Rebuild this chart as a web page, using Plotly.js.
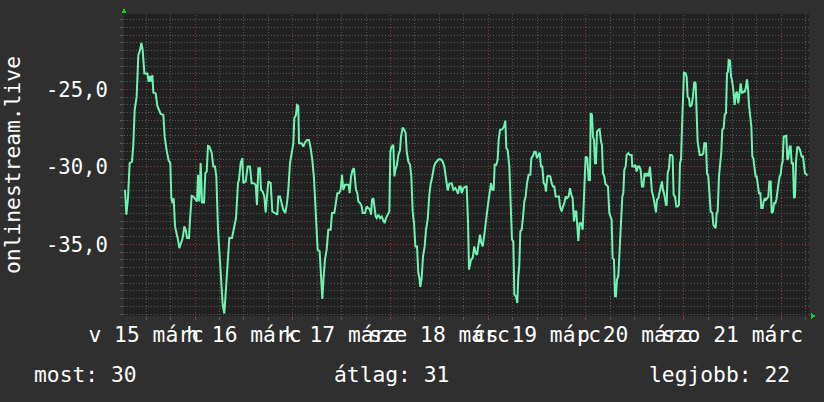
<!DOCTYPE html>
<html>
<head>
<meta charset="utf-8">
<script src="https://cdn.plot.ly/plotly-3.0.1.min.js"></script>
<style>
html,body{margin:0;padding:0;background:#2f2f2f;}
#chart{width:824px;height:402px;}
.gridlayer path, .minor-gridlayer path, .xtick, .ytick {shape-rendering: crispEdges;}
</style>
</head>
<body>
<div id="chart"></div>
<script>
// time in hours since 15 March 00:00
const hours = [
6.81,7.14,7.54,7.95,8.53,8.85,9.18,9.67,10.08,10.49,10.82,11.15,11.56,12.29,12.62,12.95,13.28,13.52,13.77,14.34,
14.75,15.24,15.57,16.22,16.55,17.04,17.53,17.94,18.19,18.51,18.76,19.09,19.50,19.82,20.15,20.56,20.97,21.38,21.71,22.04,
22.53,22.77,23.18,23.59,24.08,24.49,24.74,25.06,25.39,25.72,26.21,26.54,26.87,27.19,27.52,28.09,28.50,28.91,29.24,29.65,
30.06,30.47,30.80,31.20,31.61,32.02,32.43,33.09,33.66,34.07,34.56,
34.80,35.21,35.62,35.87,36.44,36.93,37.50,37.91,38.49,38.90,39.22,39.55,39.96,40.21,40.61,41.02,41.35,41.68,42.01,42.58,
42.99,43.64,44.22,44.46,44.87,45.28,45.69,46.18,46.59,46.92,47.33,47.74,48.15,48.39,48.80,49.05,49.37,49.54,50.19,50.60,
51.01,51.50,51.99,52.40,52.81,53.22,53.55,53.80,54.12,54.61,54.94,55.27,55.60,55.92,56.33,56.74,57.32,57.64,58.22,58.54,
58.95,59.36,59.77,60.10,60.43,60.84,61.41,61.74,61.98,62.31,62.72,63.05,
63.30,63.54,63.87,64.12,64.53,64.94,65.18,65.75,66.16,66.57,66.98,67.23,67.47,67.80,68.05,68.37,68.62,69.03,69.44,69.85,
70.17,70.58,70.91,71.32,71.73,71.98,72.30,72.71,72.96,73.20,73.61,73.94,74.35,74.60,75.00,75.41,75.74,75.99,76.40,76.81,
77.13,77.46,77.79,78.12,78.53,78.85,79.10,79.34,79.67,80.00,80.41,80.73,81.14,81.55,81.88,82.29,82.70,83.03,83.44,83.85,
84.34,84.83,85.24,85.65,86.06,86.47,87.04,87.45,87.94,88.27,88.59,88.92,89.25,89.50,89.90,90.48,90.72,91.05,91.30,
91.37,91.78,92.19,92.60,92.93,93.26,93.58,93.99,94.32,94.65,95.06,95.47,95.79,96.12,96.45,96.70,97.02,97.35,97.60,98.01,
98.33,98.58,98.91,99.48,99.89,100.22,100.46,100.79,101.20,101.53,101.85,102.18,102.43,102.84,103.16,103.41,103.65,103.90,104.23,104.55,
104.88,105.21,105.54,105.95,106.36,106.60,106.93,107.34,107.67,107.99,108.32,108.65,108.98,109.30,109.63,109.96,110.20,110.53,110.86,111.27,
111.59,111.92,112.25,112.58,112.99,113.40,113.64,114.05,114.38,114.71,115.03,115.36,115.77,116.10,116.43,116.75,117.08,117.41,117.65,117.90,
118.14,118.47,118.88,119.21,119.54,
119.94,120.35,120.68,121.01,121.17,121.50,121.74,121.99,122.23,122.48,122.73,123.05,123.38,123.71,123.95,124.20,124.53,124.77,125.10,125.43,
125.75,126.08,126.33,126.57,126.90,127.15,127.39,127.64,127.96,128.21,128.46,128.70,128.95,129.19,129.44,129.77,130.01,130.42,130.83,131.24,
131.40,131.81,132.14,132.47,132.79,133.12,133.45,133.78,134.10,134.43,134.76,135.09,135.41,135.74,135.99,136.23,136.56,136.89,137.22,137.46,
137.79,138.12,138.44,138.69,138.93,139.26,139.67,139.84,140.08,140.41,140.65,141.06,141.31,141.55,141.88,142.21,142.54,142.86,143.11,143.36,
143.60,143.85,144.09,144.50,144.75,144.99,145.32,145.57,145.98,146.30,146.63,146.96,147.21,147.45,
147.95,148.44,148.85,149.09,149.50,149.75,150.07,150.32,150.65,151.06,151.30,151.55,151.88,152.12,152.37,152.69,152.94,153.27,153.51,153.84,
154.09,154.41,154.66,154.90,155.07,155.40,155.64,155.89,156.21,156.54,156.87,157.12,157.44,157.77,158.02,158.34,158.67,159.00,159.24,159.57,
159.82,160.06,160.39,160.64,160.88,161.13,161.37,161.70,161.95,162.27,162.52,162.85,163.09,163.42,163.66,163.99,164.24,164.56,164.81,165.06,
165.38,165.63,165.96,166.20,166.53,166.78,167.02,167.27,167.59,167.84,168.09,168.33,168.58,168.90,169.23,169.48,169.72,170.05,170.30,170.54,
170.87,171.11,171.36,171.61,171.93,172.26,172.59,172.99,173.32,173.57,173.81,174.23,174.47
];
const values = [
-31.48,-33.09,-32.02,-29.76,-29.66,-28.58,-26.33,-25.47,-22.79,-22.47,-22.0,-22.47,-23.97,-23.97,-24.51,-24.14,-24.51,-24.08,-25.21,-25.26,
-26.07,-26.33,-26.59,-26.65,-28.05,-28.95,-29.59,-29.76,-32.02,-32.34,-32.02,-33.84,-34.27,-34.70,-35.24,-34.91,-34.59,-33.84,-34.06,-34.59,
-34.59,-33.41,-31.87,-31.91,-32.12,-32.23,-30.51,-32.23,-29.76,-32.30,-32.30,-30.41,-30.30,-28.65,-28.69,-29.08,-29.98,-29.98,-30.62,-34.06,
-35.77,-37.49,-38.88,-39.46,-37.92,-36.42,-34.59,-34.59,-33.84,-33.30,-31.05,
-30.84,-29.76,-29.44,-31.05,-30.94,-29.98,-29.98,-31.05,-31.05,-31.16,-32.45,-30.09,-30.09,-31.48,-31.59,-31.91,-32.94,-31.91,-30.94,-31.05,
-32.88,-32.98,-33.09,-31.91,-31.91,-32.34,-32.77,-32.98,-32.34,-31.48,-29.76,-29.12,-28.48,-26.87,-26.65,-26.01,-26.07,-28.48,-28.48,-28.69,
-28.43,-28.26,-28.26,-28.80,-29.55,-30.73,-32.34,-33.63,-35.34,-35.45,-37.06,-38.52,-37.06,-35.99,-35.34,-34.06,-34.06,-32.98,-32.98,-32.23,
-31.70,-31.70,-31.48,-30.51,-31.48,-31.16,-31.16,-31.16,-31.70,-30.62,-30.19,-30.09,
-30.84,-31.48,-31.70,-32.23,-32.34,-32.55,-32.98,-32.98,-32.55,-32.66,-32.77,-33.09,-32.12,-32.02,-32.66,-33.20,-33.30,-33.09,-33.30,-33.20,
-33.41,-33.63,-33.30,-33.09,-32.88,-29.01,-28.69,-28.58,-30.62,-30.19,-29.87,-29.23,-28.91,-28.05,-27.47,-27.62,-27.83,-29.01,-29.66,-29.87,
-30.62,-32.88,-33.63,-35.13,-35.13,-36.85,-37.17,-37.75,-37.17,-35.77,-35.13,-34.06,-33.41,-31.80,-31.09,-30.62,-29.98,-29.76,-29.59,-29.51,
-29.51,-29.66,-29.98,-30.73,-31.52,-31.09,-31.05,-31.48,-31.37,-31.52,-31.74,-31.27,-31.27,-31.70,-31.37,-31.27,-31.27,-33.52,-36.63,
-36.52,-35.99,-35.88,-35.13,-35.56,-35.67,-35.13,-34.38,-34.91,-35.13,-34.38,-33.20,-32.77,-32.12,-31.59,-31.05,-31.48,-31.48,-29.87,-29.87,
-29.55,-28.26,-27.62,-27.57,-27.40,-27.02,-28.80,-28.91,-29.98,-32.34,-34.70,-34.81,-38.24,-38.35,-38.78,-37.06,-36.31,-34.16,-34.06,-33.30,
-32.23,-31.91,-31.05,-30.51,-30.51,-29.44,-29.33,-29.03,-29.03,-29.44,-29.23,-29.08,-29.98,-29.98,-31.05,-31.16,-31.59,-30.62,-30.58,-30.62,
-31.05,-31.27,-31.27,-31.91,-31.91,-31.91,-32.55,-32.88,-32.55,-32.34,-31.91,-32.02,-31.91,-31.37,-31.80,-32.02,-33.52,-32.88,-32.88,-33.63,
-34.77,-33.63,-33.63,-34.06,-31.27,
-29.33,-29.44,-30.84,-30.84,-26.54,-26.65,-28.05,-28.26,-29.76,-29.76,-27.72,-27.62,-27.57,-28.37,-28.58,-30.41,-30.62,-31.09,-31.16,-31.27,
-32.98,-33.20,-33.41,-35.88,-35.99,-38.35,-38.35,-37.27,-37.06,-35.77,-34.06,-32.77,-31.91,-31.70,-30.19,-29.98,-29.23,-29.12,-29.23,-29.23,
-29.98,-29.98,-29.87,-30.30,-29.98,-29.98,-30.19,-31.27,-31.27,-30.41,-30.62,-30.41,-30.62,-29.98,-30.62,-31.59,-31.91,-32.45,-32.94,-32.12,
-32.02,-31.59,-31.05,-30.94,-31.48,-31.80,-32.45,-32.45,-30.41,-30.09,-29.23,-29.23,-29.33,-31.80,-31.91,-32.55,-32.55,-32.45,-29.76,-29.55,
-27.51,-25.69,-23.93,-23.97,-24.18,-25.47,-25.58,-26.12,-26.01,-25.47,-24.51,-24.61,-26.44,-28.37,
-29.23,-29.23,-29.12,-28.48,-28.48,-30.41,-30.62,-32.02,-32.88,-32.98,-33.73,-33.84,-33.95,-32.98,-32.88,-30.62,-29.98,-29.01,-27.62,-27.51,
-26.65,-26.54,-23.97,-23.86,-23.11,-23.15,-24.18,-24.40,-25.04,-26.01,-25.26,-25.15,-25.90,-25.15,-24.61,-25.26,-25.15,-25.15,-24.94,-24.36,
-24.94,-26.01,-27.08,-27.40,-29.33,-29.44,-29.98,-30.62,-30.62,-31.16,-31.70,-31.70,-32.66,-32.66,-32.23,-32.02,-32.12,-32.02,-31.91,-30.94,
-30.94,-32.98,-32.88,-32.34,-32.34,-32.12,-31.48,-31.16,-30.62,-30.51,-29.87,-29.66,-28.05,-28.00,-28.00,-29.55,-29.44,-28.69,-28.69,-29.76,
-29.76,-32.02,-31.91,-29.66,-28.73,-28.73,-28.91,-29.33,-29.33,-29.87,-30.41,-30.51,-30.51
];
const dayLabelHours = [12, 36, 60, 84, 108, 132, 156];
const dayLabels = ["v 15 márc", "h 16 márc", "k 17 márc", "sze 18 márc", "cs 19 márc", "p 20 márc", "szo 21 márc"];
const midnightHours = [24, 48, 72, 96, 120, 144, 168];
const sixHourMarks = [12, 18, 30, 36, 42, 54, 60, 66, 78, 84, 90, 102, 108, 114, 126, 132, 138, 150, 156, 162, 174];
const yTickVals = [-35, -30, -25];
const yTickText = ["-35,0", "-30,0", "-25,0"];
const yTitle = "onlinestream.live";
const statLabels = ["most: 30", "átlag: 31", "legjobb: 22"];

const FONT = "DejaVu Sans Mono";
const FS = 21.3;
const RED = "rgb(150,55,55)";
const GRAY = "rgb(88,88,88)";
const DOT = "1px,2px";
const XR = [6.56, 174.8];

const trace = {
  x: hours, y: values, type: "scatter", mode: "lines",
  line: {color: "#6ff3b2", width: 2}, hoverinfo: "skip"
};
// carrier for the day-label axis (no points)
const labelAxisTrace = {x: [], y: [], xaxis: "x2", yaxis: "y", type: "scatter", mode: "lines", hoverinfo: "skip", showlegend: false};

// day-boundary grid lines (major x grid)
const midnightLines = midnightHours.map(h => ({
  type: "line", xref: "x", yref: "paper", x0: h, x1: h, y0: 0, y1: 1, layer: "below",
  line: {color: RED, width: 1, dash: DOT}
}));

const arrows = [
  {type: "path", xref: "paper", yref: "paper",
   path: "M -0.0044 1.0017 L 0.0044 1.0017 L 0.0000 1.0199 Z",
   fillcolor: "#1fcc1f", line: {width: 0}},
  {type: "path", xref: "paper", yref: "paper",
   path: "M 1.0029 0.0099 L 1.0029 -0.0099 L 1.0102 0.0000 Z",
   fillcolor: "#1fcc1f", line: {width: 0}}
];

const layout = {
  width: 824, height: 402,
  paper_bgcolor: "#2f2f2f", plot_bgcolor: "#212121",
  margin: {l: 124, r: 15, t: 14, b: 86, pad: 0},
  font: {family: FONT, size: FS, color: "#ffffff"},
  showlegend: false,
  xaxis: {
    range: XR, tickmode: "array", tickvals: midnightHours, showticklabels: false,
    showgrid: false,
    ticks: "outside", ticklen: 3, tickcolor: RED, zeroline: false, showline: false,
    minor: {tickmode: "array", tickvals: sixHourMarks, showgrid: true, gridcolor: GRAY, griddash: DOT,
            ticks: "outside", ticklen: 3, tickcolor: GRAY},
    fixedrange: true
  },
  xaxis2: {
    overlaying: "x", anchor: "y", side: "bottom",
    range: XR, tickmode: "array", tickvals: dayLabelHours, ticktext: dayLabels,
    tickangle: 0, showgrid: false, zeroline: false, ticks: "", ticklabelstandoff: 4,
    tickfont: {family: FONT, size: FS, color: "#ffffff"}, fixedrange: true
  },
  yaxis: {
    range: [-39.62, -20.14], tickmode: "array", tickvals: yTickVals, ticktext: yTickText,
    showgrid: true, gridcolor: RED, griddash: DOT, gridwidth: 1,
    ticks: "outside", ticklen: 3, tickcolor: RED, zeroline: false, showline: false,
    minor: {tick0: 0, dtick: 0.5, showgrid: true, gridcolor: GRAY, griddash: DOT,
            ticks: "outside", ticklen: 3, tickcolor: GRAY},
    ticklabelstandoff: 8,
    tickfont: {family: FONT, size: 20.6, color: "#ffffff"},
    title: {text: yTitle, standoff: 26, font: {family: FONT, size: FS, color: "#ffffff"}},
    automargin: false, fixedrange: true
  },
  shapes: midnightLines.concat(arrows),
  annotations: [
    {text: statLabels[0], xref: "paper", yref: "paper", x: -0.1343, y: -0.195, xanchor: "left", yanchor: "middle", showarrow: false},
    {text: statLabels[1], xref: "paper", yref: "paper", x: 0.3912, y: -0.195, xanchor: "center", yanchor: "middle", showarrow: false},
    {text: statLabels[2], xref: "paper", yref: "paper", x: 0.9752, y: -0.195, xanchor: "right", yanchor: "middle", showarrow: false}
  ]
};

Plotly.newPlot("chart", [trace, labelAxisTrace], layout, {displayModeBar: false, staticPlot: true}).then(() => {
  document.querySelectorAll(".shapelayer path").forEach(p => p.style.shapeRendering = "crispEdges");
});
</script>
</body>
</html>
